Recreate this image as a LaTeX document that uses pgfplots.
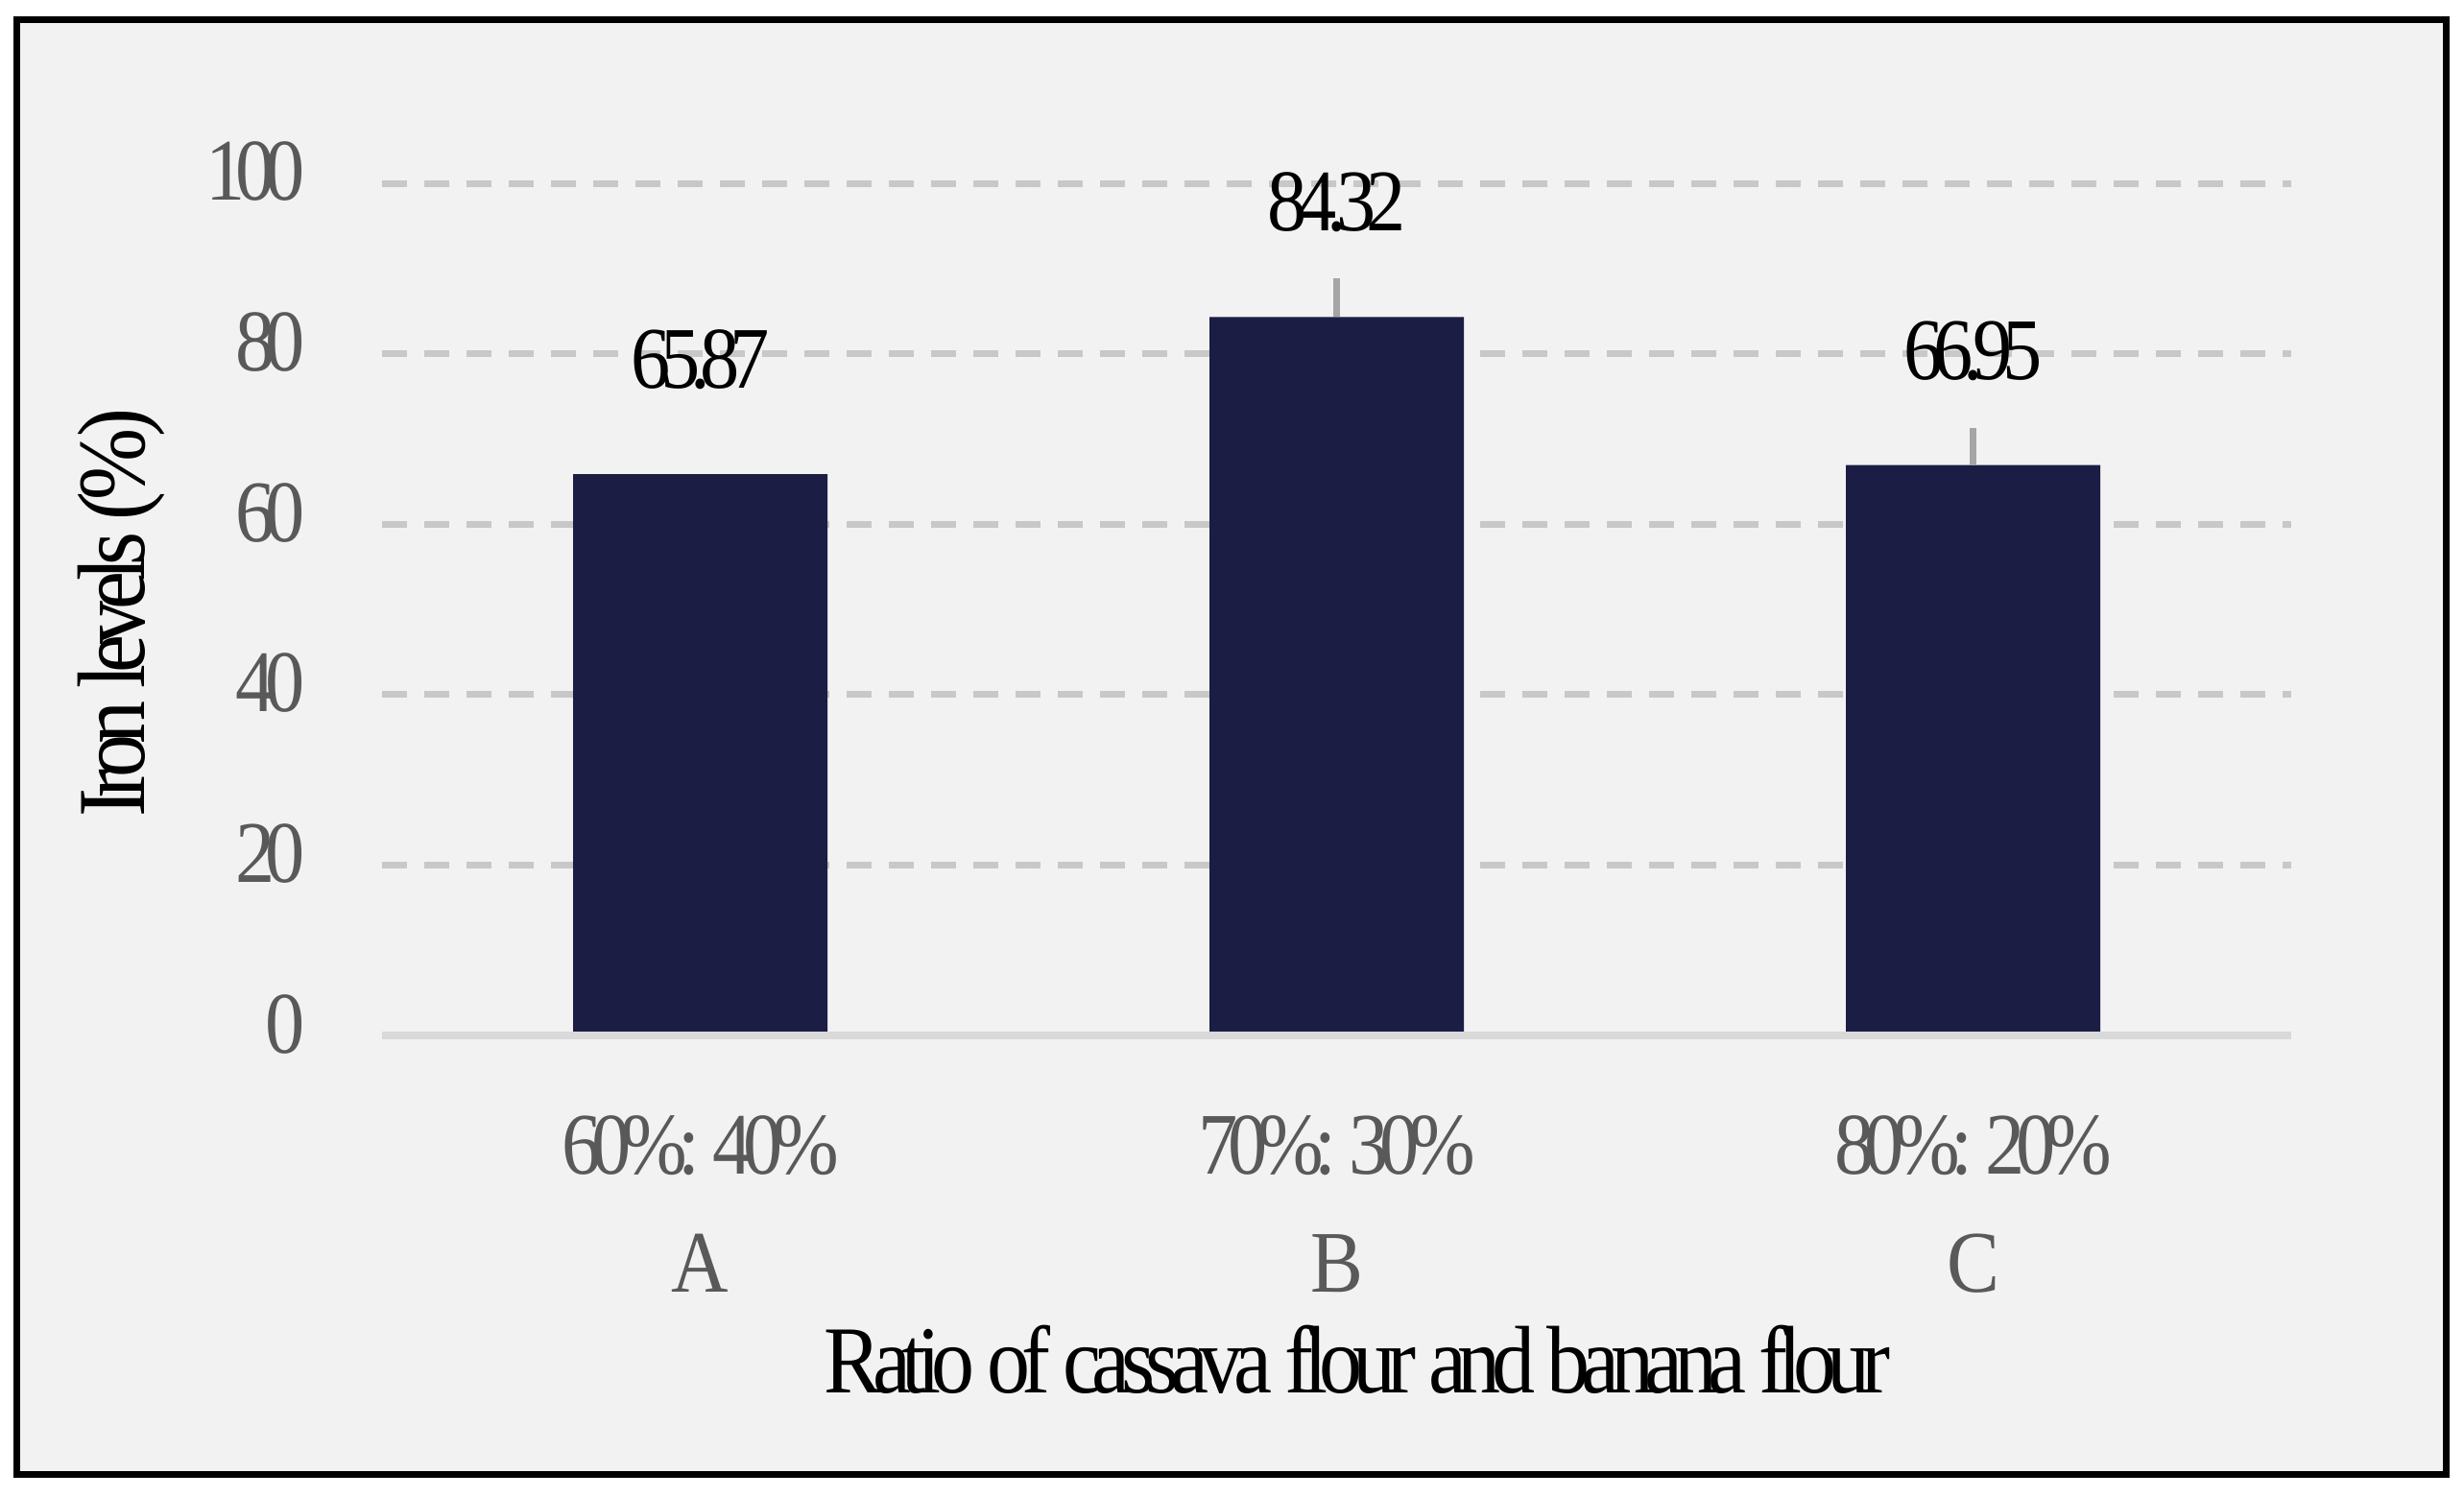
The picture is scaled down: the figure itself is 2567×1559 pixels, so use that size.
\documentclass[border=0pt]{standalone}
\usepackage{fontspec}
\setmainfont{Liberation Serif}[FakeStretch=0.9,LetterSpace=-11]
\usepackage{pgfplots}
\usepackage{pgfplotstable}
\pgfplotsset{compat=1.18}

\definecolor{bgcol}{HTML}{F2F2F2}
\definecolor{barcol}{HTML}{1B1D44}
\definecolor{gridcol}{HTML}{C8C8C8}
\definecolor{basecol}{HTML}{D9D9D9}
\definecolor{errcol}{HTML}{A5A5A5}
\definecolor{tickcol}{HTML}{595959}

\pgfplotstableread{
x y e
0 65.87 0
1 84.32 4.53
2 66.95 4.33
}\irondata

\begin{document}
\begin{tikzpicture}
\begin{scope}[x=0.2pt,y=-0.2pt]
\path[use as bounding box] (0,0) rectangle (2567,1559);
\fill[bgcol] (17.5,20.5) rectangle (2548.5,1536.5);
\draw[line width=1.4pt] (17.5,20.5) rectangle (2548.5,1536.5);
\end{scope}
\begin{axis}[
  at={(79.6pt,-215.8pt)}, anchor=south west,
  scale only axis, width=397.8pt, height=177.6pt,
  xmin=-0.5, xmax=2.5, ymin=0, ymax=100,
  ytick={0,20,...,100}, xtick={0,1,2},
  xticklabels={{60\%: 40\%\\A},{70\%: 30\%\\B},{80\%: 20\%\\C}},
  axis line style={draw=none}, major tick length=0pt,
  ymajorgrids, grid style={gridcol, line width=1.4pt, dash pattern=on 5.2pt off 3.6pt},
  /pgf/number format/assume math mode=true,
  ticklabel style={font=\fontsize{18.3}{24.6}\selectfont, text=tickcol, inner sep=0pt},
  yticklabel style={anchor=east, xshift=-15.8pt, yshift=2.4pt},
  xticklabel style={align=center, anchor=north, yshift=-16.6pt},
  clip=false,
]
\addplot[ybar, bar width=53pt, fill=barcol, draw=none,
  error bars/.cd, y dir=plus, y explicit, error mark=none,
  error bar style={errcol, line width=1.4pt}]
  table[x=x, y=y, y error=e] {\irondata};
\addplot[only marks, mark=none,
  nodes near coords={\pgfmathprintnumber[fixed,fixed zerofill,precision=2,assume math mode=true]{\pgfplotspointmeta}},
  nodes near coords style={font=\fontsize{18.3}{24.6}\selectfont, text=black, inner sep=0pt, anchor=south, yshift=17.4pt}]
  table[x=x, y=y] {\irondata};
\draw[basecol, line width=1.6pt] (axis cs:-0.5,0) -- (axis cs:2.5,0);
\end{axis}
\begin{scope}[x=0.2pt,y=-0.2pt]
\node[anchor=base, font=\fontsize{20}{24}\selectfont\addfontfeatures{LetterSpace=-9.5}, inner sep=0pt] at (1414,1451) {Ratio of cassava flour and banana flour};
\node[anchor=base, rotate=90, font=\fontsize{20}{24}\selectfont\addfontfeatures{LetterSpace=-9.5}, inner sep=0pt] at (150,639) {Iron levels (\%)};
\end{scope}
\end{tikzpicture}
\end{document}
